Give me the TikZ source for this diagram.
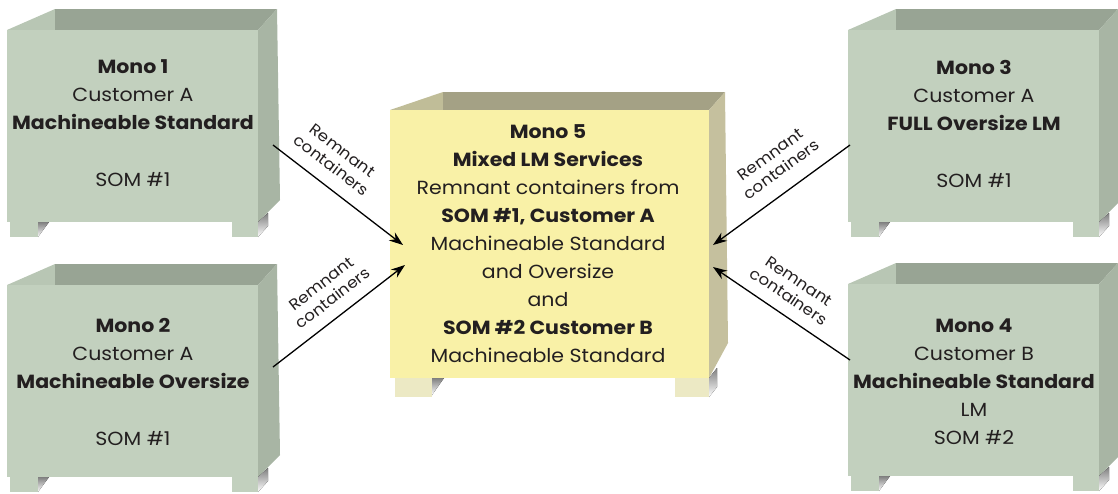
\documentclass[tikz,border=0pt]{standalone}
\usepackage{fontspec}
\newfontfamily\boxfont[FakeStretch=1.08]{Poppins}
\usetikzlibrary{arrows.meta}
\definecolor{gfront}{RGB}{194,208,190}
\definecolor{gback}{RGB}{152,164,148}
\definecolor{gside}{RGB}{168,181,164}
\definecolor{gwedge}{RGB}{184,198,180}
\definecolor{shade}{RGB}{186,188,192}
\definecolor{yfront}{RGB}{249,241,167}
\definecolor{yback}{RGB}{164,161,133}
\definecolor{yside}{RGB}{197,192,158}
\definecolor{ywedge}{RGB}{192,189,152}
\definecolor{yfeet}{RGB}{236,233,196}
\definecolor{ink}{RGB}{35,31,32}
\tikzset{
  boxtext/.style={font=\boxfont\fontsize{19}{28}\selectfont, text=ink, align=center, inner sep=0pt},
  lbl/.style={font=\boxfont\fontsize{15.5}{18.5}\selectfont, text=ink, align=center, inner sep=0pt},
  flow/.style={draw=black, line width=1.3pt, -{Stealth[length=14pt,width=10pt]}},
  greencrate/.pic={
    \fill[gwedge] (0,0) -- (48,-21) -- (48,0) -- cycle;
    \fill[gback] (48,-21) -- (270,-21) -- (251,0) -- (48,0) -- cycle;
    \fill[gside] (251,0) -- (270,-21) -- (273,170) -- (251,192) -- cycle;
    \fill[gfront] (0,0) rectangle (251,192);
    \fill[gfront] (3,192) rectangle (31,207);
    \fill[shade] (31,192) -- (42,192) -- (31,207) -- cycle;
    \fill[gfront] (225,192) rectangle (251,207);
    \fill[shade] (251,192) -- (261,183) -- (261,196) -- (251,207) -- cycle;
  }
}
\begin{document}
\begin{tikzpicture}[x=1pt,y=-1pt]
\useasboundingbox (0,0) rectangle (1118,493);
% crates
\pic at (7,30) {greencrate};
\pic at (7,285) {greencrate};
\pic at (848,30) {greencrate};
\pic at (848,284) {greencrate};
% center crate
\fill[ywedge] (390,110) -- (443,92) -- (443,110) -- cycle;
\fill[yback] (443,92) -- (725,92) -- (709,110) -- (443,110) -- cycle;
\fill[yside] (709,110) -- (725,92) -- (728,343) -- (709,378) -- cycle;
\fill[yfront] (390,110) rectangle (709,378);
\fill[yfeet] (395,378) rectangle (432,397);
\fill[shade] (432,378) -- (444,378) -- (432,395) -- cycle;
\fill[yfeet] (675,378) rectangle (709,397);
\fill[shade] (709,378) -- (717,368) -- (717,387) -- (709,397) -- cycle;
% texts
\node[boxtext] (m1) at (133,123.5) {\textbf{Mono 1}\\Customer A\\\textbf{Machineable Standard}\\[29pt]SOM \#1};
\node[boxtext] (m2) at (133,381.5) {\textbf{Mono 2}\\Customer A\\\textbf{Machineable Oversize}\\[29pt]SOM \#1};
\node[boxtext] (m3) at (974,123.5) {\textbf{Mono 3}\\Customer A\\\textbf{FULL Oversize LM}\\[29pt]SOM \#1};
\node[boxtext] (m4) at (974,382) {\textbf{Mono 4}\\Customer B\\\textbf{Machineable Standard}\\LM\\SOM \#2};
\node[boxtext] (m5) at (548,244) {\textbf{Mono 5}\\\textbf{Mixed LM Services}\\Remnant containers from\\\textbf{SOM \#1, Customer A}\\Machineable Standard\\and Oversize\\and\\\textbf{SOM \#2 Customer B}\\Machineable Standard};
% arrows
\coordinate (a1s) at (273,145); \coordinate (a1e) at (403,245);
\coordinate (a2s) at (273,367); \coordinate (a2e) at (405,265);
\coordinate (a3s) at (850,145); \coordinate (a3e) at (713,245);
\coordinate (a4s) at (850,360); \coordinate (a4e) at (713,267);
\draw[flow] (a1s) -- (a1e);
\draw[flow] (a2s) -- (a2e);
\draw[flow] (a3s) -- (a3e);
\draw[flow] (a4s) -- (a4e);
\node[lbl, rotate=-37] (l1) at (337,158) {Remnant\\containers};
\node[lbl, rotate=37.7] (l2) at (327,291) {Remnant\\containers};
\node[lbl, rotate=36] (l3) at (776,162) {Remnant\\containers};
\node[lbl, rotate=-34] (l4) at (794,289) {Remnant\\containers};
\end{tikzpicture}
\end{document}
